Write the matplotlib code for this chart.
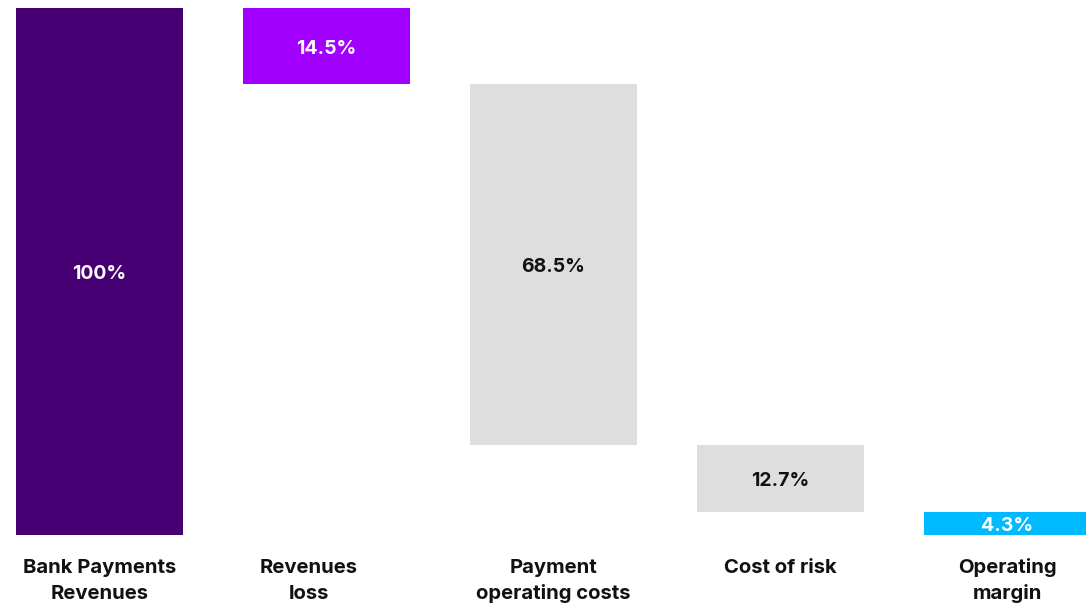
import matplotlib
matplotlib.use("Agg")
import matplotlib.pyplot as plt

categories = ["Bank Payments\nRevenues", "Revenues\nloss", "Payment\noperating costs",
              "Cost of risk", "Operating\nmargin"]
values = [100.0, 14.5, 68.5, 12.7, 4.3]
labels = ["100%", "14.5%", "68.5%", "12.7%", "4.3%"]
colors = ["#460073", "#A100FF", "#DEDEDE", "#DEDEDE", "#00BAFF"]
text_colors = ["white", "white", "#111111", "#111111", "white"]

plt.rcParams["font.family"] = ["Inter", "DejaVu Sans"]

# waterfall: first bar from 0, steps down, last bar from 0
bottoms = []
level = values[0]
for i, v in enumerate(values):
    if i == 0 or i == len(values) - 1:
        bottoms.append(0.0)
    else:
        level -= v
        bottoms.append(level)

fig = plt.figure(figsize=(10.86, 6.04), dpi=100)
ax = fig.add_axes([0, 0, 1, 1])

step = 227.0
width = 167.0 / step
ppu = 527.0 / 100  # pixels per percent point
x = list(range(len(values)))
ax.bar(x, values, bottom=bottoms, width=width, color=colors, linewidth=0)

for xi, v, b, lab, tc in zip(x, values, bottoms, labels, text_colors):
    ax.text(xi, b + v / 2 - 7.5 / ppu, lab, ha="center", va="baseline", color=tc,
            fontsize=14, fontweight="bold")

# category names under the bars, one text per line
# (the "Revenues loss" label sits a bit left of its bar in the original)
label_shift = [0, -18, 0, 0, 0]
for xi, cat, dx in zip(x, categories, label_shift):
    for k, line in enumerate(cat.split("\n")):
        ax.text(xi + dx / step, -(38 + 26 * k) / ppu, line, ha="center", va="baseline",
                color="#111111", fontsize=14.6, fontweight="bold")

# map pixels: bar 0 centre at 99.5 px, 100% at y=8 px, 0 at y=535 px
ax.set_xlim(-99.5 / step, (1086 - 99.5) / step)
ax.set_ylim(-(604 - 535) / ppu, 100 + 8 / ppu)
ax.axis("off")

fig.savefig("out.png", dpi=100)
